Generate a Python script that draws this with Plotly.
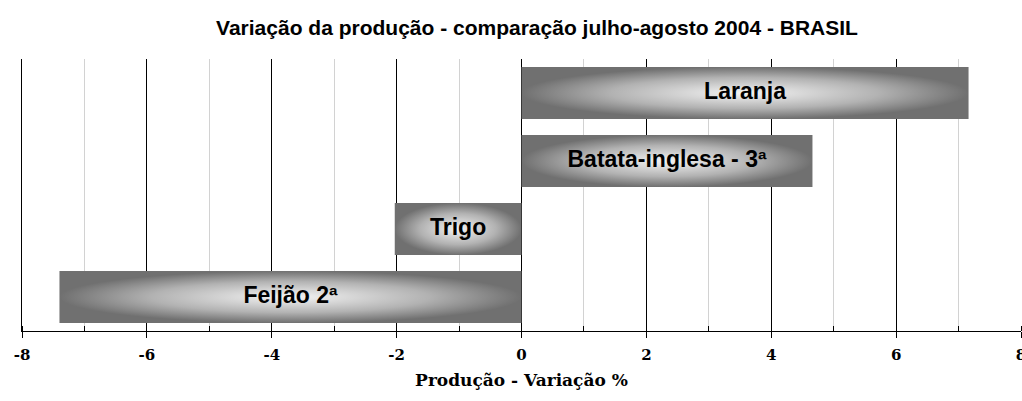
import plotly.graph_objects as go

categories = ["Feijão 2ª", "Trigo", "Batata-inglesa - 3ª", "Laranja"]
values = [-7.40, -2.03, 4.66, 7.16]
x_ticks = [-8, -6, -4, -2, 0, 2, 4, 6, 8]
x_tick_labels = ["-8", "-6", "-4", "-2", "0", "2", "4", "6", "8"]

half = 0.382
fig = go.Figure()
for i, (cat, v) in enumerate(zip(categories, values)):
    fig.add_trace(go.Scatter(
        x=[0, v, v, 0, 0],
        y=[i - half, i - half, i + half, i + half, i - half],
        mode="lines", line=dict(width=0, color="rgba(0,0,0,0)"),
        fill="toself",
        fillgradient=dict(type="radial",
                          colorscale=[[0, "#f4f4f4"], [0.6, "#b2b2b2"], [1, "#707070"]]),
        hoverinfo="skip", showlegend=False,
    ))

fig.add_trace(go.Scatter(
    x=[v / 2 for v in values], y=list(range(len(categories))),
    mode="text", text=["<b>" + c + "</b>" for c in categories],
    textfont=dict(family="Liberation Sans, Arial", size=23, color="black"),
    hoverinfo="skip", showlegend=False,
))

fig.update_layout(
    width=1022, height=401,
    margin=dict(l=22, r=1, t=59, b=70, autoexpand=False),
    paper_bgcolor="white", plot_bgcolor="white",
    title=dict(text="<b>Variação da produção - comparação julho-agosto 2004 - BRASIL</b>",
               font=dict(family="Liberation Sans, Arial", size=21, color="black"),
               x=537 / 1022, xref="container", xanchor="center",
               y=1 - 28 / 401, yref="container", yanchor="middle"),
    xaxis=dict(range=[-8, 8], tickvals=x_ticks,
               ticktext=["<b>" + t + "</b>" for t in x_tick_labels],
               showgrid=True, gridcolor="black", gridwidth=1,
               zeroline=True, zerolinecolor="black", zerolinewidth=1,
               showline=True, linecolor="black", linewidth=1,
               ticks="outside", ticklen=6, tickcolor="black",
               ticklabelstandoff=4, ticklabeloverflow="allow",
               tickfont=dict(family="DejaVu Serif", size=15, color="black"),
               minor=dict(dtick=1, showgrid=True, gridcolor="#d2d2d2", gridwidth=1,
                          ticks="inside", ticklen=5, tickcolor="black"),
               title=dict(text="<b>Produção - Variação %</b>", standoff=11,
                          font=dict(family="DejaVu Serif", size=17, color="black"))),
    yaxis=dict(range=[-0.5, 3.5], showticklabels=False, showgrid=False, zeroline=False,
               showline=True, linecolor="black", linewidth=1, ticks=""),
)

fig.write_html("out.html", config={"displayModeBar": False},
               post_script="document.body.style.margin='0';")
